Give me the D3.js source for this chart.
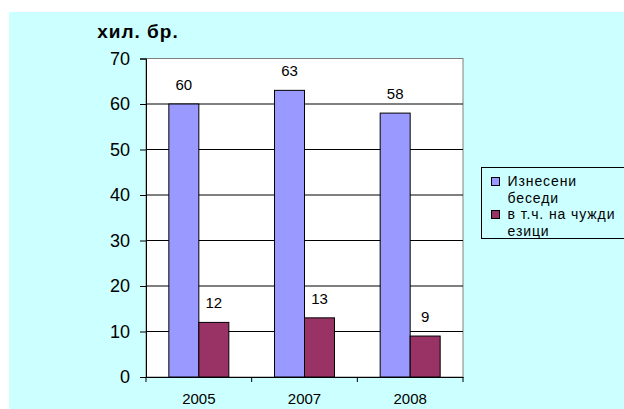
<!DOCTYPE html>
<html>
<head>
<meta charset="utf-8">
<script src="https://cdn.jsdelivr.net/npm/d3@7"></script>
<style>
  body { margin: 0; background: #fff; }
  svg { display: block; font-family: "Liberation Sans", Arial, sans-serif; }
</style>
</head>
<body>
<div id="chart"></div>
<script>
'use strict';

var years = ['2005', '2007', '2008'];
var seriesNames = ['Изнесени беседи', 'в т.ч. на чужди езици'];
var talks = [60, 63, 58];
var foreign = [12, 13, 9];
var yTicks = [0, 10, 20, 30, 40, 50, 60, 70];
var colors = ['#9999ff', '#993366'];

var W = 624, H = 409;
var margin = {top: 58.5, right: 161, bottom: 32, left: 146};
var width = W - margin.left - margin.right;
var height = H - margin.top - margin.bottom;

var svg = d3.select('#chart').append('svg')
	.attr('width', W)
	.attr('height', H);

// chart area background
svg.append('rect')
	.attr('x', 9).attr('y', 12)
	.attr('width', W - 9).attr('height', H - 12)
	.attr('fill', '#ccffff');

svg.append('text')
	.attr('x', 138).attr('y', 38)
	.attr('text-anchor', 'middle')
	.attr('font-size', 19).attr('font-weight', 'bold')
	.attr('letter-spacing', 1)
	.text('хил. бр.');

var g = svg.append('g')
	.attr('transform', 'translate(' + margin.left + ',' + margin.top + ')');

var x = d3.scaleBand().domain(years).range([0, width]);
var xInner = d3.scaleBand().domain([0, 1]).range([0, 60]);
var y = d3.scaleLinear().domain([0, 70]).range([height, 0]);

g.append('rect')
	.attr('width', width).attr('height', height)
	.attr('fill', '#fff').attr('stroke', '#808080');

g.selectAll('line.grid').data(yTicks.filter(function(d){ return d > 0 && d < 70; }))
	.enter().append('line')
	.attr('class', 'grid')
	.attr('x1', 0).attr('x2', width)
	.attr('y1', function(d){ return y(d); })
	.attr('y2', function(d){ return y(d); })
	.attr('stroke', '#000');

var data = [];
years.forEach(function(yr, i){
	data.push({year: yr, s: 0, v: talks[i]});
	data.push({year: yr, s: 1, v: foreign[i]});
});

var bw = xInner.bandwidth();
g.selectAll('rect.bar').data(data).enter().append('rect')
	.attr('class', 'bar')
	.attr('x', function(d){ return x(d.year) + x.bandwidth() / 2 - 30 + xInner(d.s); })
	.attr('y', function(d){ return y(d.v); })
	.attr('width', bw)
	.attr('height', function(d){ return y(0) - y(d.v); })
	.attr('fill', function(d){ return colors[d.s]; })
	.attr('stroke', '#000');

g.selectAll('text.val').data(data).enter().append('text')
	.attr('class', 'val')
	.attr('x', function(d){ return x(d.year) + x.bandwidth() / 2 - 30 + xInner(d.s) + bw / 2; })
	.attr('y', function(d){ return y(d.v) - 14; })
	.attr('text-anchor', 'middle')
	.attr('font-size', 15)
	.text(function(d){ return d.v; });

// y axis
var yAxis = d3.axisLeft(y).tickValues(yTicks).tickSize(6).tickPadding(10);
var ya = g.append('g').call(yAxis);
ya.selectAll('text').attr('font-size', 18).attr('fill', '#000');
ya.select('.domain').attr('stroke', '#000');

// x axis
var xAxis = d3.axisBottom(x).tickSize(0).tickPadding(16);
var xa = g.append('g').attr('transform', 'translate(0,' + height + ')').call(xAxis);
xa.selectAll('text').attr('font-size', 15).attr('fill', '#000');
xa.select('.domain').attr('stroke', '#000');
xa.selectAll('line.sep').data(d3.range(years.length + 1))
	.enter().append('line')
	.attr('class', 'sep')
	.attr('x1', function(i){ return i * x.step(); })
	.attr('x2', function(i){ return i * x.step(); })
	.attr('y1', 0).attr('y2', 5)
	.attr('stroke', '#000');

// legend
var lg = svg.append('g').attr('transform', 'translate(481.5,167.5)');
lg.append('rect')
	.attr('width', 160).attr('height', 71)
	.attr('fill', '#ccffff').attr('stroke', '#000');
var lines = [['Изнесени', 'беседи'], ['в т.ч. на чужди', 'езици']];
lines.forEach(function(ln, i){
	var top = 10 + i * 33;
	lg.append('rect')
		.attr('x', 10).attr('y', top)
		.attr('width', 8).attr('height', 8)
		.attr('fill', colors[i]).attr('stroke', '#000');
	ln.forEach(function(t, j){
		lg.append('text')
			.attr('x', 26).attr('y', top + 8 + j * 17)
			.attr('font-size', 14)
			.attr('letter-spacing', 0.9)
			.text(t);
	});
});
</script>
</body>
</html>
